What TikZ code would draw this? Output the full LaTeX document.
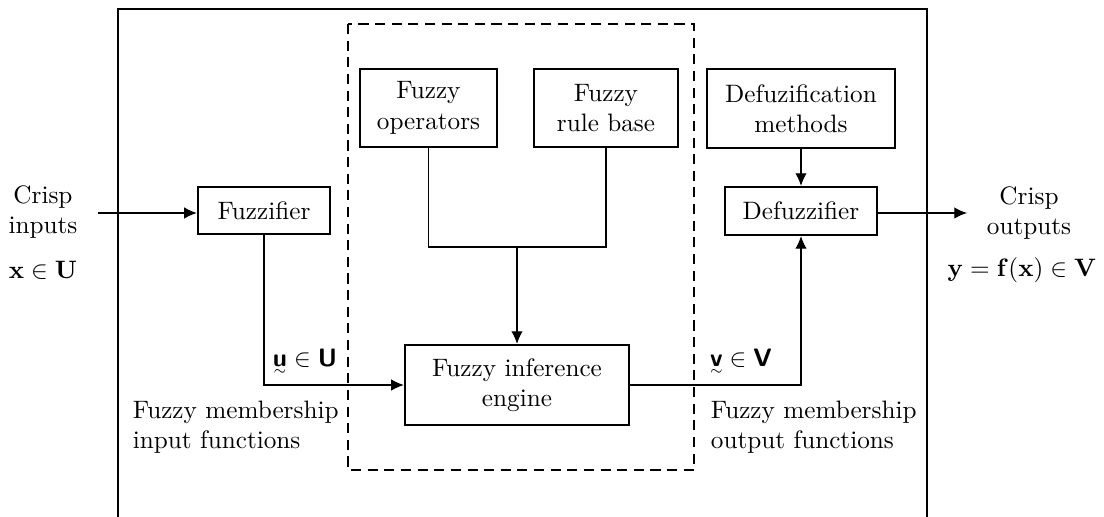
\documentclass[tikz,border=0pt]{standalone}
\usepackage{amsmath}
\usepackage{amsfonts}
\usepackage{tikz}
\usetikzlibrary{arrows.meta,calc}

\newcommand{\bsf}[1]{\text{\sffamily\bfseries #1}}
\newcommand{\utl}[1]{\text{\ooalign{#1\cr\hidewidth\raisebox{-3.2pt}{$\scriptscriptstyle\sim$}\hidewidth\cr}}}

\begin{document}
\begin{tikzpicture}[x=0.01394cm,y=-0.01394cm,>={Latex[length=5pt,width=4.5pt]},
  block/.style={draw,line width=0.9pt,align=center,inner sep=2pt},
  link/.style={line width=0.45pt}]
\clip (0,0) rectangle (1104,517);
\useasboundingbox (0,0) rectangle (1104,517);

% frames
\draw[line width=1.1pt] (118,9) rectangle (927,560);
\draw[line width=1pt,dash pattern=on 4pt off 2.6pt] (348,24) rectangle (694,470);

% blocks
\node[block, minimum width=54.3pt, minimum height=30.9pt] (ops) at (428.5,108) {Fuzzy\\operators};
\node[block, minimum width=57.1pt, minimum height=30.9pt] (rules) at (606,108) {Fuzzy\\rule base};
\node[block, minimum width=74.6pt, minimum height=31.3pt] (meth) at (801,108.5) {Defuzification\\methods};
\node[block, minimum width=52.4pt, minimum height=18.6pt] (fuz) at (264,210.5) {Fuzzifier};
\node[block, minimum width=60.3pt, minimum height=19pt] (defuz) at (801,211) {Defuzzifier};
\node[block, minimum width=88.9pt, minimum height=31.7pt] (inf) at (517,385) {Fuzzy inference\\engine};

% labels
\node[align=center] (cin) at (43,212) {Crisp\\inputs};
\node (xin) at (43,270) {$\mathbf{x}\in\mathbf{U}$};
\node[align=center] (cout) at (1029,213) {Crisp\\outputs};
\node (yout) at (1022,270) {$\mathbf{y}=\mathbf{f(x)}\in\mathbf{V}$};
\node (uin) at (305,362) {$\utl{\bsf{u}}\in\bsf{U}$};
\node (vout) at (741,362) {$\utl{\bsf{v}}\in\bsf{V}$};
\node[align=left,anchor=west] (mfin) at (124,427) {Fuzzy membership\\input functions};
\node[align=left,anchor=west] (mfout) at (702,427) {Fuzzy membership\\output functions};

% free ends
\coordinate (src) at (98,213);
\coordinate (dst) at (967,213);
\coordinate (jn) at (517,247);

% connectors
\draw[link,->] (src) -- (fuz.west |- src);
\draw[link,->] (fuz.south) |- (inf.west);
\draw[link] (ops.south) |- (jn) -| (rules.south);
\draw[link,->] (jn) -- (inf.north);
\draw[link,->] (inf.east) -| (defuz.south);
\draw[link,->] (meth.south) -- (defuz.north);
\draw[link,->] (defuz.east |- dst) -- (dst);
\end{tikzpicture}
\end{document}
